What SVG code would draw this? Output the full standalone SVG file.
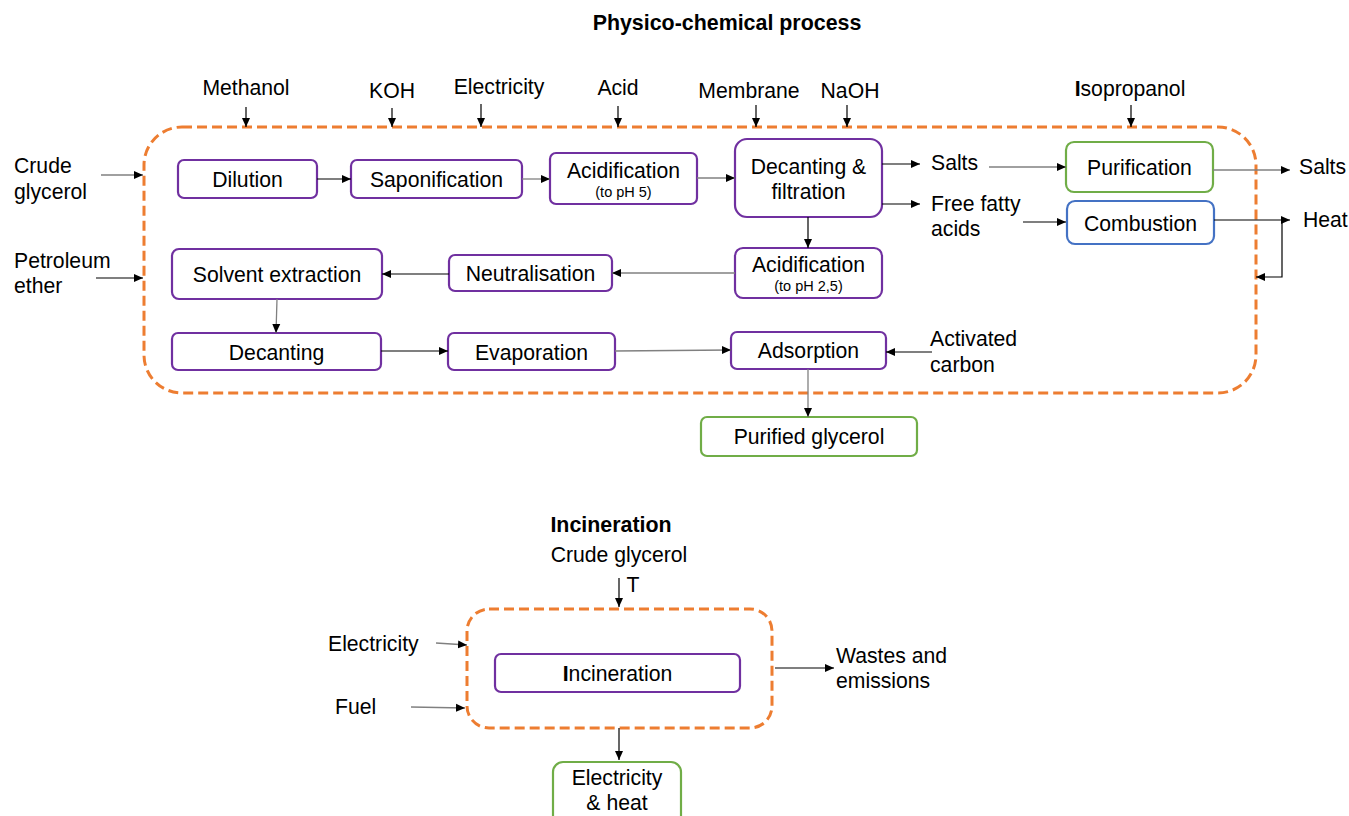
<svg xmlns="http://www.w3.org/2000/svg" width="1349" height="816" viewBox="0 0 1349 816">
<defs>
<marker id="ah" markerUnits="userSpaceOnUse" markerWidth="10" markerHeight="10" viewBox="0 0 10 10" refX="9" refY="5" orient="auto">
<path d="M0,1 L9,5 L0,9 Z" fill="#000"/>
</marker>
</defs>
<style>
text{font-family:"Liberation Sans",Arial,sans-serif;font-size:21.2px;fill:#000}
.b{font-weight:bold;font-size:21.4px}
.s{font-size:14.5px}
.m{text-anchor:middle}
.p{fill:#fff;stroke:#7030A0;stroke-width:2.2}
.g{fill:#fff;stroke:#70AD47;stroke-width:2.2}
.bl{fill:#fff;stroke:#4472C4;stroke-width:2.2}
.d{fill:none;stroke:#ED7D31;stroke-width:3;stroke-dasharray:10 5}
.c{fill:none;stroke:#000;stroke-width:1.2;marker-end:url(#ah)}
.cg{fill:none;stroke:#808080;stroke-width:1.3;marker-end:url(#ah)}
</style>
<rect width="1349" height="816" fill="#fff"/>

<text class="b m" x="727" y="30">Physico-chemical process</text>

<g id="boundary1"><rect class="d" x="144" y="127" width="1112" height="266" rx="38"/></g>

<g id="inputs1">
<text class="m" x="246" y="95">Methanol</text>
<text class="m" x="392" y="98">KOH</text>
<text class="m" x="499" y="94">Electricity</text>
<text class="m" x="618" y="95">Acid</text>
<text class="m" x="749" y="98">Membrane</text>
<text class="m" x="850" y="98">NaOH</text>
<text class="m" x="1130" y="96"><tspan font-weight="bold">I</tspan>sopropanol</text>
<text x="14" y="173">Crude</text>
<text x="14" y="199">glycerol</text>
<text x="14" y="268">Petroleum</text>
<text x="14" y="293">ether</text>
<text x="931" y="170">Salts</text>
<text x="931" y="211">Free fatty</text>
<text x="931" y="236">acids</text>
<text x="930" y="346">Activated</text>
<text x="930" y="372">carbon</text>
<text x="1299" y="174">Salts</text>
<text x="1303" y="227">Heat</text>
</g>

<g id="n-dilution"><rect class="p" x="178" y="160" width="139" height="38" rx="6"/><text class="m" x="247.5" y="187">Dilution</text></g>
<g id="n-saponification"><rect class="p" x="351" y="160" width="171" height="38" rx="6"/><text class="m" x="436.5" y="187">Saponification</text></g>
<g id="n-acidification1"><rect class="p" x="550" y="153" width="147" height="51" rx="6"/><text class="m" x="623.5" y="178">Acidification</text><text class="m s" x="623.5" y="197">(to pH 5)</text></g>
<g id="n-decanting-filtration"><rect class="p" x="735" y="139" width="147" height="78" rx="12"/><text class="m" x="808.5" y="174">Decanting &amp;</text><text class="m" x="808.5" y="199">filtration</text></g>
<g id="n-acidification2"><rect class="p" x="735" y="248" width="147" height="50" rx="8"/><text class="m" x="808.5" y="272">Acidification</text><text class="m s" x="808.5" y="291">(to pH 2,5)</text></g>
<g id="n-neutralisation"><rect class="p" x="449" y="255" width="163" height="36" rx="6"/><text class="m" x="530.5" y="281">Neutralisation</text></g>
<g id="n-solvent"><rect class="p" x="172" y="249" width="210" height="50" rx="7"/><text class="m" x="277" y="282">Solvent extraction</text></g>
<g id="n-decanting"><rect class="p" x="172" y="333" width="209" height="37" rx="6"/><text class="m" x="276.5" y="360">Decanting</text></g>
<g id="n-evaporation"><rect class="p" x="448" y="333" width="167" height="37" rx="6"/><text class="m" x="531.5" y="360">Evaporation</text></g>
<g id="n-adsorption"><rect class="p" x="731" y="332" width="155" height="37" rx="6"/><text class="m" x="808.5" y="358">Adsorption</text></g>
<g id="n-purified"><rect class="g" x="701" y="417" width="216" height="39" rx="6"/><text class="m" x="809" y="444">Purified glycerol</text></g>
<g id="n-purification"><rect class="g" x="1066" y="142" width="147" height="50" rx="8"/><text class="m" x="1139.5" y="175">Purification</text></g>
<g id="n-combustion"><rect class="bl" x="1067" y="201" width="147" height="43" rx="8"/><text class="m" x="1140.5" y="231">Combustion</text></g>

<g id="connectors1">
<path class="c" d="M246,107 V127"/>
<path class="c" d="M392,108 V127"/>
<path class="c" d="M481,104 V127"/>
<path class="c" d="M618,106 V127"/>
<path class="c" d="M756,105 V127"/>
<path class="c" d="M847,105 V127"/>
<path class="c" d="M1131,105 V127"/>
<path class="cg" d="M101,175 H143"/>
<path class="c" d="M96,278 H143"/>
<path class="c" d="M317,179 H351"/>
<path class="cg" d="M522,179 H550"/>
<path class="cg" d="M697,178 H735"/>
<path class="c" d="M882,164 H920"/>
<path class="c" d="M882,204 H920"/>
<path class="c" d="M808,217 V248"/>
<path class="cg" d="M735,273 H612"/>
<path class="c" d="M449,274 H382"/>
<path class="cg" d="M277,299 L276,333"/>
<path class="c" d="M381,351 H448"/>
<path class="cg" d="M615,351 L731,350"/>
<path class="c" d="M932,352 H886"/>
<path class="cg" d="M808,369 V417"/>
<path class="cg" d="M989,167 H1066"/>
<path class="c" d="M1023,222 H1066"/>
<path class="cg" d="M1213,170 H1290"/>
<path class="c" d="M1214,220 H1290"/>
<path class="c" d="M1282,220 V277 H1256"/>
</g>

<text class="b m" x="611" y="532">Incineration</text>
<g id="boundary2"><rect class="d" x="467" y="609" width="305" height="119" rx="22"/></g>
<g id="inputs2">
<text class="m" x="619" y="562">Crude glycerol</text>
<text class="m" x="633" y="592">T</text>
<text x="328" y="651">Electricity</text>
<text x="335" y="714">Fuel</text>
<text x="836" y="663">Wastes and</text>
<text x="836" y="688">emissions</text>
</g>
<g id="n-incineration"><rect class="p" x="495" y="654" width="245" height="38" rx="6"/><text class="m" x="617.5" y="681"><tspan font-weight="bold">I</tspan>ncineration</text></g>
<g id="n-elec-heat"><rect class="g" x="553" y="762" width="128" height="70" rx="10"/><text class="m" x="617" y="785">Electricity</text><text class="m" x="617" y="810">&amp; heat</text></g>
<g id="connectors2">
<path class="c" d="M619,578 V607"/>
<path class="cg" d="M436,643 L467,645"/>
<path class="cg" d="M411,707 L465,708"/>
<path class="c" d="M775,668 H834"/>
<path class="c" d="M619,728 V760"/>
</g>
</svg>
